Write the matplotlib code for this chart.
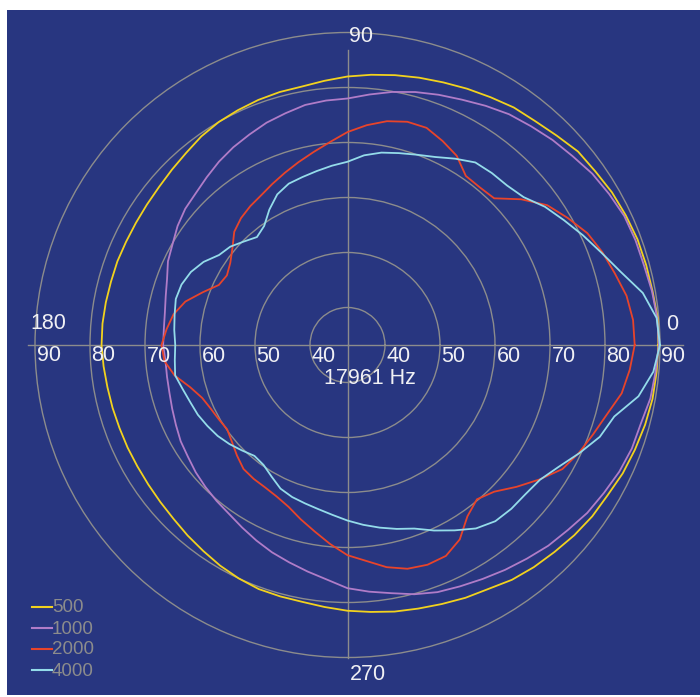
import numpy as np
import matplotlib.pyplot as plt
from matplotlib import transforms, font_manager
from matplotlib.patches import Rectangle

# polar response, level in dB, every 5 degrees (0 = right, counter-clockwise)
angles_deg = np.arange(0, 360, 5)

spl_500 = [89.7, 89.8, 89.5, 89.4, 89.3, 89.0, 88.7, 88.2, 87.9, 87.0, 86.3, 85.9,
           85.2, 84.6, 84.0, 83.5, 83.0, 82.5, 82.0, 81.4, 80.9, 80.8, 80.6, 80.3,
           80.0, 79.5, 78.8, 78.3, 77.9, 77.7, 77.6, 77.6, 77.7, 77.7, 77.8, 77.9,
           77.9, 77.7, 77.5, 77.4, 77.3, 77.3, 77.3, 77.4, 77.6, 77.9, 78.4, 78.9,
           79.5, 80.0, 80.4, 80.5, 80.6, 81.0, 81.5, 81.9, 82.4, 82.8, 83.3, 83.9,
           84.4, 85.3, 85.9, 86.4, 87.0, 87.5, 87.8, 88.4, 88.8, 89.2, 89.5, 89.6]

spl_1000 = [89.8, 89.7, 89.4, 89.0, 88.9, 88.7, 88.1, 87.5, 86.6, 85.9, 85.1, 84.4,
            83.4, 82.4, 81.6, 80.8, 79.9, 78.9, 78.0, 77.8, 77.5, 76.8, 76.2, 75.4,
            74.7, 73.9, 73.0, 72.2, 71.7, 70.9, 69.9, 69.2, 68.1, 67.4, 66.9, 66.7,
            66.7, 66.4, 66.5, 66.7, 67.1, 67.6, 68.2, 68.6, 69.2, 69.7, 70.2, 70.7,
            71.5, 72.4, 73.3, 74.1, 75.0, 76.0, 77.4, 78.2, 79.0, 80.1, 81.0, 81.6,
            82.3, 83.1, 83.9, 84.8, 85.5, 86.4, 87.0, 87.7, 88.2, 88.4, 89.1, 89.4]

spl_2000 = [85.4, 85.3, 84.7, 83.5, 82.5, 81.3, 79.4, 77.5, 74.4, 70.9, 70.6, 70.7,
            72.9, 74.1, 75.2, 75.2, 74.5, 73.3, 71.9, 70.2, 68.8, 67.6, 66.5, 65.5,
            64.6, 64.0, 63.3, 62.3, 60.5, 59.2, 58.5, 59.0, 61.2, 63.7, 65.3, 66.2,
            67.0, 66.6, 65.1, 62.8, 61.3, 60.6, 60.2, 59.9, 60.6, 61.6, 62.6, 62.9,
            63.1, 63.6, 64.5, 66.0, 67.6, 69.5, 71.4, 72.6, 74.2, 75.3, 75.7, 75.5,
            74.0, 71.2, 69.8, 70.9, 73.3, 75.8, 78.3, 79.6, 80.7, 82.0, 83.8, 84.7]

spl_4000 = [90.0, 89.6, 87.7, 84.6, 82.3, 80.4, 78.6, 77.0, 75.0, 74.2, 74.0, 73.7,
            72.3, 70.9, 70.0, 69.3, 68.7, 67.8, 66.5, 65.9, 65.3, 64.8, 64.4, 63.4,
            61.6, 59.6, 58.8, 59.8, 61.0, 61.7, 63.4, 64.6, 65.3, 65.5, 65.1, 64.8,
            64.5, 64.7, 65.0, 64.2, 63.6, 63.2, 62.6, 62.0, 61.2, 60.3, 59.5, 59.8,
            60.8, 62.0, 62.6, 63.0, 63.5, 64.2, 65.1, 66.0, 66.9, 67.8, 68.7, 70.4,
            72.1, 73.9, 75.0, 75.3, 75.4, 75.9, 77.5, 79.7, 82.0, 83.4, 86.9, 89.0]

series_labels = ['500', '1000', '2000', '4000']
series_colors = ['#f2d21e', '#b07cc8', '#e8442a', '#94dcea']
ring_levels = [40, 50, 60, 70, 80, 90]
freq_text = '17961 Hz'

BG = '#283680'
GRID = '#8c8c8c'
TXT = '#f0f0f4'

# narrow font if there is one, else Liberation Sans (Arial metrics)
have = {f.name for f in font_manager.fontManager.ttflist}
FONT = 'Liberation Sans'
FS = 15.5
for cand in ['Liberation Sans Narrow', 'DejaVu Sans Condensed']:
    if cand in have:
        FONT, FS = cand, 17
        break
LEG_FS = 13.5

fig = plt.figure(figsize=(7, 6.97), dpi=100)
fig.patch.set_facecolor('white')
fig.patches.append(Rectangle((7 / 700, 2 / 697), 1, 685 / 697, transform=fig.transFigure,
                             facecolor=BG, edgecolor='none', zorder=-5))

rmin = 33.18
ax = fig.add_axes([35 / 700, 39.5 / 697, 625 / 700, 625 / 697], projection='polar')
ax.set_facecolor('none')
ax.set_ylim(rmin, 90)
ax.set_yticks(ring_levels[:-1])
ax.set_yticklabels([])
ax.set_xticks([])
ax.grid(True, color=GRID, linewidth=1.0)
ax.spines['polar'].set_color(GRID)
ax.spines['polar'].set_linewidth(1.0)

# cross hair
ax.plot([0, 0], [rmin, 94.2], color=GRID, lw=1.0, clip_on=False)
ax.plot([np.pi, np.pi], [rmin, 91.3], color=GRID, lw=1.0, clip_on=False)
ax.plot([np.pi / 2, np.pi / 2], [rmin, 86.8], color=GRID, lw=1.0, clip_on=False)
ax.plot([1.5 * np.pi, 1.5 * np.pi], [rmin, 90.1], color=GRID, lw=1.0, clip_on=False)

theta = np.deg2rad(np.append(angles_deg, 360))
for vals, col in zip([spl_500, spl_1000, spl_2000, spl_4000], series_colors):
    r = np.append(vals, vals[0])
    ax.plot(theta, r, color=col, lw=1.3, clip_on=False, zorder=3)


def off(dx, dy):
    return transforms.offset_copy(ax.transData, fig=fig, x=dx, y=dy, units='dots')


for lev in ring_levels:
    for th in (0, np.pi):
        ax.text(th, lev, str(lev), transform=off(1.5, -11), ha='left', va='center',
                color=TXT, fontsize=FS, family=FONT)

ax.text(np.pi / 2, 90, '90', transform=off(1.5, -4.5), ha='left', va='center',
        color=TXT, fontsize=FS, family=FONT)
ax.text(1.5 * np.pi, 90, '270', transform=off(2.5, -17.5), ha='left', va='center',
        color=TXT, fontsize=FS, family=FONT)
ax.text(np.pi, 90, '180', transform=off(-5, 21), ha='left', va='center',
        color=TXT, fontsize=FS, family=FONT)
ax.text(0, 90, '0', transform=off(6, 20.5), ha='left', va='center',
        color=TXT, fontsize=FS, family=FONT)
ax.text(0, rmin, freq_text, transform=off(22.5, -34), ha='center', va='center',
        color=TXT, fontsize=FS, family=FONT)

# legend
lg = fig.add_axes([0, 0, 1, 1])
lg.set_xlim(0, 700)
lg.set_ylim(697, 0)
lg.axis('off')
for i, (lab, col) in enumerate(zip(series_labels, series_colors)):
    y = 607 + 21 * i
    lg.plot([32, 52], [y, y], color=col, lw=1.5)
    lg.text(52, y + 1, lab, ha='left', va='center', color=GRID, fontsize=LEG_FS, family=FONT)

fig.savefig('out.png', dpi=100, facecolor='white')
